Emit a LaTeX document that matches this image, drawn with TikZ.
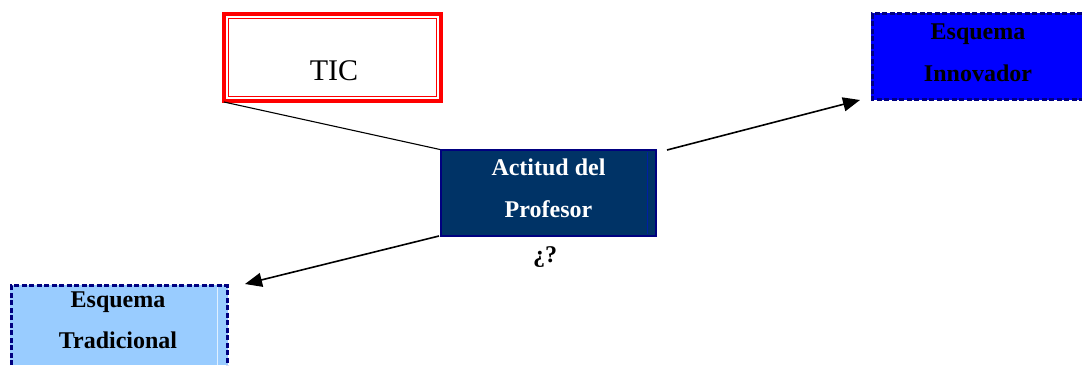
\documentclass[tikz,border=0pt]{standalone}
\usepackage{fontspec}
\setmainfont{Liberation Serif}
\usetikzlibrary{arrows.meta}
\definecolor{navy}{HTML}{000080}
\definecolor{actfill}{HTML}{003366}
\definecolor{lightblue}{HTML}{99CCFF}
\definecolor{pureblue}{HTML}{0000FF}
\begin{document}
\begin{tikzpicture}[x=1pt,y=-1pt,
  box/.style={inner sep=0pt, outer sep=0pt, align=center, font=\fontsize{24}{42}\selectfont\bfseries},
  dashbox/.style={draw=navy, line width=3pt, dash pattern=on 5pt off 2.5pt},
  conn/.style={line width=1.6pt, black},
  arr/.style={conn, -{Triangle[length=17pt,width=14pt]}}]
\useasboundingbox (0,0) rectangle (1082,365);
% TIC box
\draw[red, line width=3.2pt] (224,14) rectangle (441,101);
\draw[red, line width=1.5pt] (228.5,18.5) rectangle (436.5,96.5);
\node[inner sep=0pt, font=\fontsize{30}{33}\selectfont, anchor=base] (tictxt) at (334,80) {TIC};
\coordinate (tic) at (224,102);
% Actitud del Profesor
\fill[actfill] (440,149) rectangle (657,237);
\draw[navy, line width=2.2pt] (441,150) rectangle (656,236);
\draw[blue!40!actfill, line width=0.6pt] (647,152) -- (647,234);
\node[box, text=white, anchor=base] (act1) at (548.5,175) {Actitud del};
\node[box, text=white, anchor=base] (act2) at (548.5,217) {Profesor};
\coordinate (actnw) at (440,149.5);
\coordinate (actne) at (667,150);
\coordinate (actsw) at (439,236);
\node[box, anchor=base] (q) at (545,262) {¿?};
% Esquema Innovador
\fill[pureblue] (871,13) rectangle (1082,100);
\draw[dashbox] (1082,13.5) -- (872,13.5) -- (872,99) -- (1082,99);
\node[box, anchor=base] (inn1) at (978,39) {Esquema};
\node[box, anchor=base] (inn2) at (978,81) {Innovador};
\coordinate (innin) at (860,100);
% Esquema Tradicional
\fill[lightblue] (10,285) rectangle (228,365);
\draw[dashbox] (11,365) -- (11,285.5) -- (227,285.5) -- (227,365);
\draw[white!70!lightblue, line width=0.6pt] (217,287) -- (217,365);
\node[box, anchor=base] (tr1) at (118,307) {Esquema};
\node[box, anchor=base] (tr2) at (118,348) {Tradicional};
\coordinate (trin) at (245,284);
% connectors
\draw[conn, line width=1.1pt] (tic) -- (actnw);
\draw[arr] (actne) -- (innin);
\draw[arr] (actsw) -- (trin);
\end{tikzpicture}
\end{document}
